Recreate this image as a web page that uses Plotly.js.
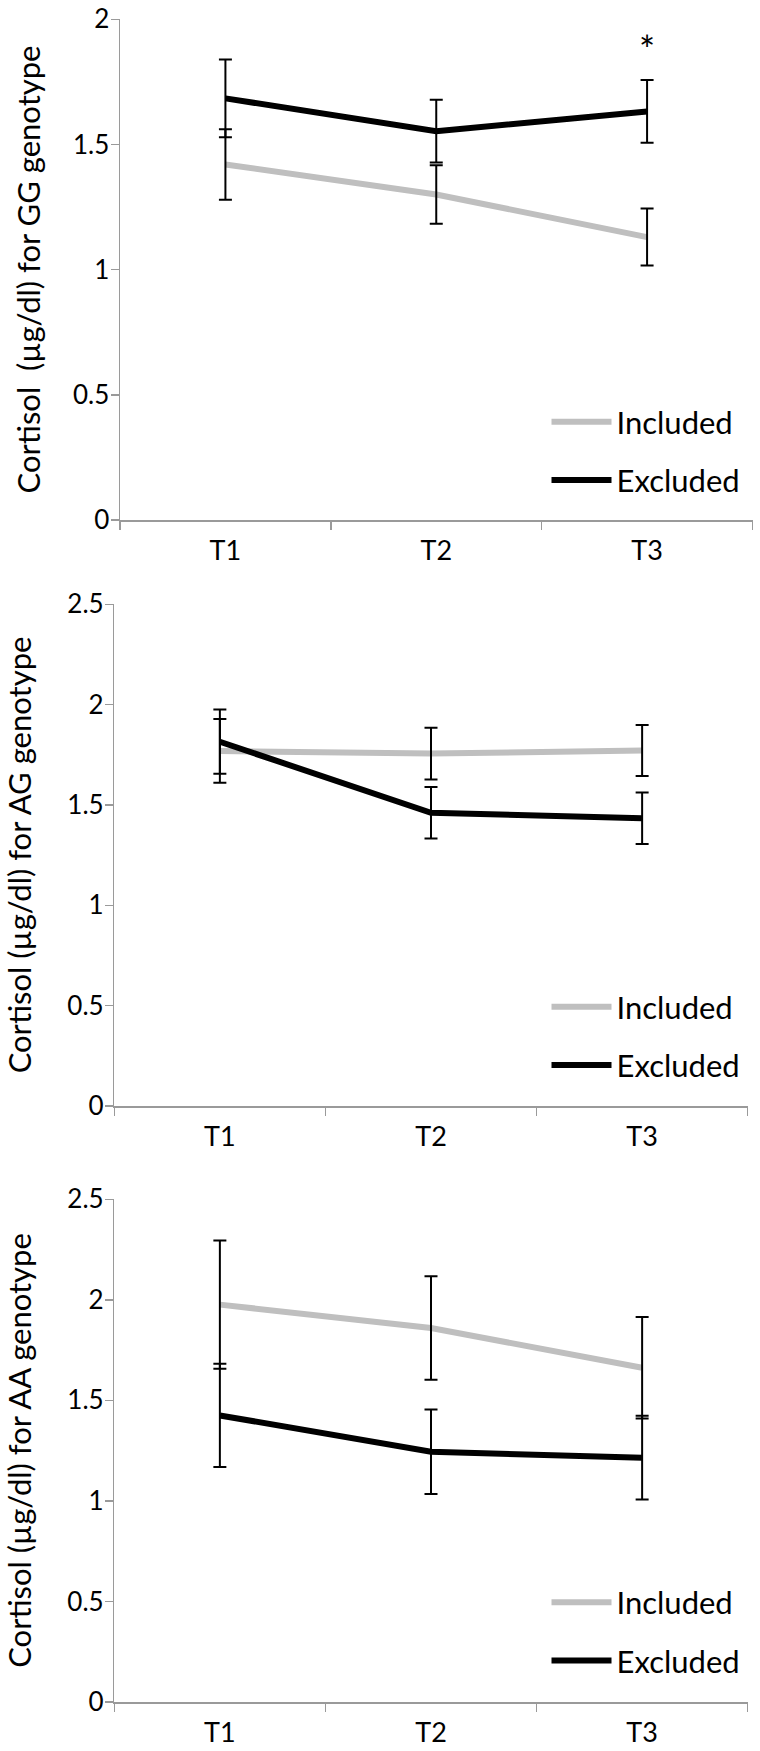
<!DOCTYPE html>
<html>
<head>
<meta charset="utf-8">
<script src="https://cdn.plot.ly/plotly-3.0.1.min.js"></script>
<style>
  html, body { margin: 0; padding: 0; background: #ffffff; }
  #chart { width: 760px; height: 1751px; }
</style>
</head>
<body>
<div id="chart"></div>
<script>
// ---------- data ----------
const timepoints = ["T1", "T2", "T3"];
const seriesNames = ["Included", "Excluded"];

const ggIncluded    = [1.420, 1.300, 1.130];
const ggIncludedErr = [0.141, 0.117, 0.114];
const ggExcluded    = [1.684, 1.553, 1.632];
const ggExcludedErr = [0.155, 0.125, 0.125];

const agIncluded    = [1.769, 1.756, 1.771];
const agIncludedErr = [0.159, 0.129, 0.127];
const agExcluded    = [1.815, 1.461, 1.434];
const agExcludedErr = [0.160, 0.128, 0.128];

const aaIncluded    = [1.976, 1.860, 1.662];
const aaIncludedErr = [0.319, 0.257, 0.252];
const aaExcluded    = [1.425, 1.244, 1.215];
const aaExcludedErr = [0.257, 0.210, 0.208];

const yTitles = [
  "Cortisol\u00a0 (µg/dl) for GG genotype",
  "Cortisol (µg/dl) for AG genotype",
  "Cortisol (µg/dl) for AA genotype"
];
const yMax = [2, 2.5, 2.5];
const ggSignificance = ["", "", "*"];

// ---------- styling / layout ----------
const FONT = "Lato, 'Open Sans', sans-serif";
const AXIS_GRAY = "#9a9a9a";
const W = 760, H = 1751;

const panels = [
  { inc: ggIncluded, incErr: ggIncludedErr, exc: ggExcluded, excErr: ggExcludedErr,
    px: [120, 752.5], py: [19, 520], legY: 451, titleGap: 23 },
  { inc: agIncluded, incErr: agIncludedErr, exc: agExcluded, excErr: agExcludedErr,
    px: [114.3, 747.7], py: [604, 1106], legY: 1036, titleGap: 27 },
  { inc: aaIncluded, incErr: aaIncludedErr, exc: aaExcluded, excErr: aaExcludedErr,
    px: [114.3, 747.7], py: [1199, 1702], legY: 1631.5, titleGap: 27 }
];

const traces = [];
const layout = {
  width: W, height: H,
  margin: { l: 0, r: 0, t: 0, b: 0 },
  paper_bgcolor: "#ffffff",
  plot_bgcolor: "#ffffff",
  font: { family: FONT, color: "#000000" },
  showlegend: true,
  annotations: []
};

panels.forEach((p, i) => {
  const s = i === 0 ? "" : String(i + 1);
  const xa = "x" + s, ya = "y" + s, lg = "legend" + s;

  traces.push({
    type: "scatter", mode: "lines", name: seriesNames[0],
    x: timepoints, y: p.inc, xaxis: xa, yaxis: ya, legend: lg,
    legendgroup: "inc" + i,
    line: { color: "#bfbfbf", width: 6 }, hoverinfo: "skip"
  });
  traces.push({
    type: "scatter", mode: "lines", name: seriesNames[1],
    x: timepoints, y: p.exc, xaxis: xa, yaxis: ya, legend: lg,
    legendgroup: "exc" + i,
    line: { color: "#000000", width: 6 }, hoverinfo: "skip"
  });
  // error bars drawn on top of the lines
  [[p.inc, p.incErr], [p.exc, p.excErr]].forEach(([vals, errs]) => {
    traces.push({
      type: "scatter", mode: "markers", showlegend: false,
      x: timepoints, y: vals, xaxis: xa, yaxis: ya,
      marker: { size: 2, opacity: 0 }, hoverinfo: "skip",
      error_y: { type: "data", array: errs, visible: true,
                 color: "#000000", thickness: 2, width: 6.5 }
    });
  });

  layout["xaxis" + s] = {
    domain: [p.px[0] / W, p.px[1] / W], anchor: ya,
    type: "category", range: [-0.5, 2.5],
    tickson: "boundaries", ticks: "outside", ticklen: 8, tickwidth: 1.5,
    tickcolor: AXIS_GRAY, showline: true, linecolor: AXIS_GRAY, linewidth: 1.5,
    showgrid: false, zeroline: false, ticklabelstandoff: 6,
    tickfont: { family: FONT, size: 27, color: "#000000" }
  };
  layout["yaxis" + s] = {
    domain: [1 - p.py[1] / H, 1 - p.py[0] / H], anchor: xa,
    range: [0, yMax[i] * 1.0005], tick0: 0, dtick: 0.5,
    ticks: "outside", ticklen: 8, tickwidth: 1.5, tickcolor: AXIS_GRAY,
    showline: true, linecolor: AXIS_GRAY, linewidth: 1.5,
    showgrid: false, zeroline: false, ticklabelstandoff: -4,
    ticklabeloverflow: "allow",
    tickfont: { family: FONT, size: 26, color: "#000000" },
    title: { text: yTitles[i], standoff: p.titleGap,
             font: { family: FONT, size: 31, color: "#000000" } }
  };
  layout[lg] = {
    x: 546.5 / W, xanchor: "left",
    y: 1 - p.legY / H, yanchor: "middle",
    bgcolor: "rgba(0,0,0,0)", borderwidth: 0,
    font: { family: FONT, size: 31, color: "#000000" },
    itemwidth: 60, tracegroupgap: 15, traceorder: "grouped"
  };
});

ggSignificance.forEach((t, j) => {
  if (t) {
    layout.annotations.push({
      xref: "x", yref: "y domain", x: timepoints[j], y: 0.99,
      text: t, showarrow: false,
      font: { family: FONT, size: 38, color: "#000000" }
    });
  }
});

Plotly.newPlot("chart", traces, layout, { staticPlot: true, displayModeBar: false })
  .then(() => {
    document.querySelectorAll(".legendlines path").forEach(el => {
      el.setAttribute("d", "M5,0h60");
    });
  });
</script>
</body>
</html>
